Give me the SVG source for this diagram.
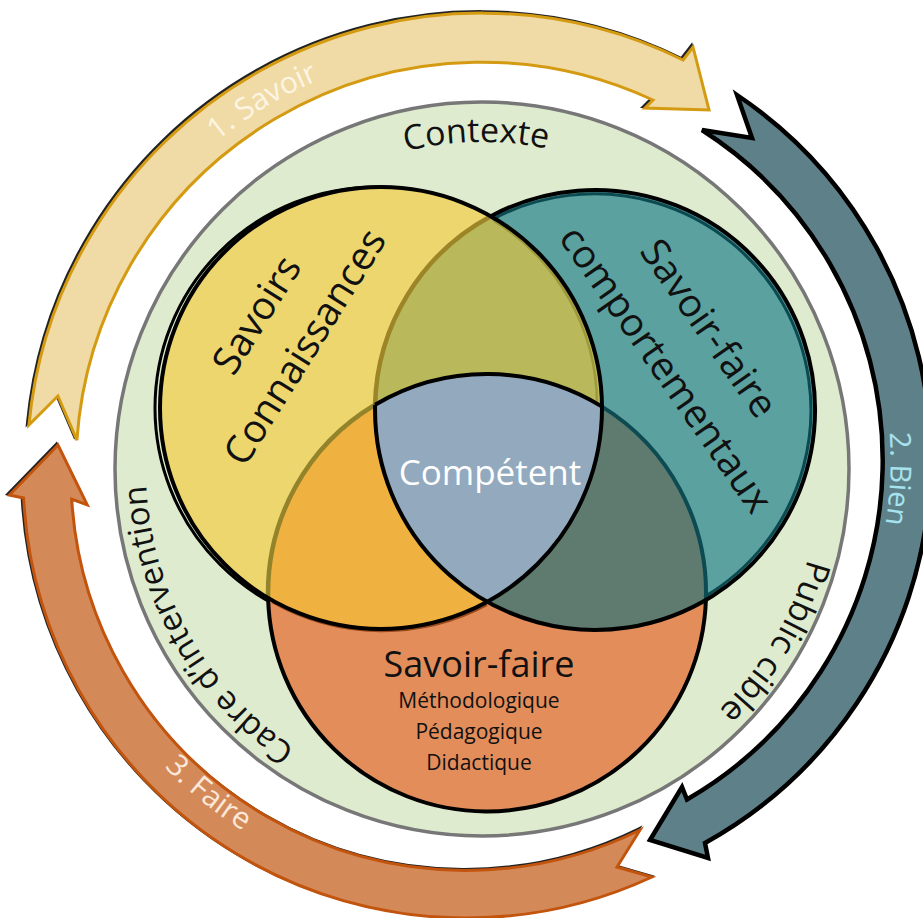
<svg xmlns="http://www.w3.org/2000/svg" width="923" height="918" viewBox="0 0 923 918">
<style>
text { font-family: "Open Sans", "Noto Sans", "DejaVu Sans", sans-serif; }
.ctx { font-size: 34px; fill: #111; }
.lbl { font-size: 30px; }
.big { font-size: 39px; fill: #111; }
.sub { font-size: 21px; fill: #111; }
.a1 { fill: #F0DBA6; stroke: #D49B12; stroke-width: 3; stroke-linejoin: miter; }
.a2 { fill: #5E8189; stroke: #000; stroke-width: 4.5; stroke-linejoin: miter; }
.a3 { fill: #D48A58; stroke: #C2540E; stroke-width: 3; stroke-linejoin: miter; }
.sh { fill: #222; stroke: #222; stroke-width: 3; }
.blk { fill: none; stroke: #000; stroke-width: 4; }
</style>
<defs>
<path id="arrow1" d="M28.9,425 A455,455 0 0,1 683,60 L693,47 L709,110 L645,108 L653,100 A406,406 0 0,0 76.9,440.1 L57.9,396 Z"/>
<path id="arrow2" d="M737,95 A439,439 0 0,1 705,843 L708,858 L650,840 L682,787 L687,799.5 A392,392 0 0,0 702,130 L752,138 Z"/>
<path id="arrow3" d="M652,877 A443,443 0 0,1 23.6,498 L9.4,495 L58,445 L87.2,504.8 L71.7,499.1 A395,395 0 0,0 640,830 L617,867 Z"/>
<path id="pSavoir" d="M84.9,330.3 A420,420 0 0,1 547.7,52.2"/>
<path id="pBien" d="M797.4,202.6 A400,400 0 0,1 771.4,744.3"/>
<path id="pFaire" d="M52.4,547.9 A420,420 0 0,0 480.7,894.7"/>
<path id="pCtx" d="M267.5,222.2 A327,327 0 0,1 687.8,214.9"/>
<path id="pPub" d="M799.6,353.4 A338,338 0 0,1 534.9,802.8"/>
<path id="pCadre" d="M482,805 A336,336 0 0,1 194,295.9"/>
</defs>
<rect width="923" height="918" fill="#fff"/>

<g id="connectors">
<g id="arrow-savoir">
<use href="#arrow1" class="sh" transform="translate(-1.5,-1.5)"/>
<use href="#arrow1" class="a1"/>
<text class="lbl" fill="#FDF5E4"><textPath href="#pSavoir" startOffset="50%" text-anchor="middle">1. Savoir</textPath></text>
</g>
<g id="arrow-bien">
<use href="#arrow2" class="a2"/>
<text class="lbl" fill="#A6E3EE" style="font-size:29px"><textPath href="#pBien" startOffset="50%" text-anchor="middle">2. Bien</textPath></text>
</g>
<g id="arrow-faire">
<use href="#arrow3" class="sh" transform="translate(-1.5,-1)"/>
<use href="#arrow3" class="a3"/>
<text class="lbl" fill="#FBE8DA"><textPath href="#pFaire" startOffset="50%" text-anchor="middle">3. Faire</textPath></text>
</g>
</g>

<g id="contexte">
<circle cx="482" cy="469" r="367" fill="#DFEBCF" stroke="#777" stroke-width="3.5"/>
<text class="ctx"><textPath href="#pCtx" startOffset="50%" text-anchor="middle">Contexte</textPath></text>
<text class="ctx"><textPath href="#pPub" startOffset="50%" text-anchor="middle">Public cible</textPath></text>
<text class="ctx" style="font-size:33px"><textPath href="#pCadre" startOffset="50%" text-anchor="middle">Cadre d’intervention</textPath></text>
</g>

<g id="venn">
<circle cx="376" cy="408" r="221" fill="none" stroke="#000" stroke-width="3"/>
<g id="savoirs">
<circle cx="381" cy="408" r="221" fill="#EDD66E"/>
</g>
<g id="savoir-faire-comportementaux">
<circle cx="595" cy="410" r="220" fill="#5BA19F"/>
</g>
<g id="savoir-faire">
<circle cx="487" cy="593" r="219" fill="#E38D5B"/>
</g>
<path d="M490.8,216.2 A221,221 0 0,1 487.2,601.8 A220,220 0 0,1 490.8,216.2 Z" fill="#B9B95C"/>
<path d="M268.1,598 A221,221 0 0,0 602,406.6 A219,219 0 0,0 268.1,598 Z" fill="#EFB13F"/>
<path d="M375.1,404.8 A220,220 0 0,0 705.9,600 A219,219 0 0,0 375.1,404.8 Z" fill="#5F7B6F"/>
<g id="competent">
<path d="M375.1,404.8 A219,219 0 0,1 602,406.6 A221,221 0 0,1 487.2,601.8 A220,220 0 0,1 375.1,404.8 Z" fill="#92A9BE"/>
</g>
<path d="M494,221 A216,216 0 0,1 597,404" fill="none" stroke="#9E9A3C" stroke-width="2.5"/>
<path d="M492.4,219.4 A216.5,216.5 0 0,1 704.3,596.9" fill="none" stroke="#0C4A52" stroke-width="3"/>
<path d="M272,602 A224,224 0 0,0 487,605" fill="none" stroke="#9A4A1A" stroke-width="2.5"/>
<path d="M375.1,404.8 A220,220 0 0,1 490.8,216.2" fill="none" stroke="#9C8526" stroke-width="4.5"/>
<path d="M375.1,404.8 A219,219 0 0,0 268.1,598" fill="none" stroke="#93832A" stroke-width="4.5"/>
<path d="M705.9,600 A219,219 0 0,0 602,406.6" fill="none" stroke="#0D4B53" stroke-width="4"/>
<circle cx="381" cy="408" r="221" class="blk"/>
<path d="M490.8,216.2 A220,220 0 1,1 375.1,404.8" class="blk"/>
<path d="M268.1,598 A219,219 0 0,0 705.9,600" class="blk"/>
<path d="M602,406.6 A219,219 0 0,0 375.1,404.8" class="blk"/>

<text class="big" transform="translate(268,322) rotate(-58)" text-anchor="middle">Savoirs</text>
<text class="big" transform="translate(316,354) rotate(-58)" text-anchor="middle">Connaissances</text>
<text class="big" transform="translate(698,336) rotate(55)" text-anchor="middle">Savoir-faire</text>
<text class="big" transform="translate(655,377) rotate(55)" text-anchor="middle">comportementaux</text>
<text x="490" y="485" font-size="35" fill="#fff" text-anchor="middle">Compétent</text>
<text x="479" y="677" fill="#111" text-anchor="middle" style="font-size:36px">Savoir-faire</text>
<text class="sub" x="479" y="708" text-anchor="middle">Méthodologique</text>
<text class="sub" x="479" y="739" text-anchor="middle">Pédagogique</text>
<text class="sub" x="479" y="770" text-anchor="middle">Didactique</text>
</g>
</svg>
